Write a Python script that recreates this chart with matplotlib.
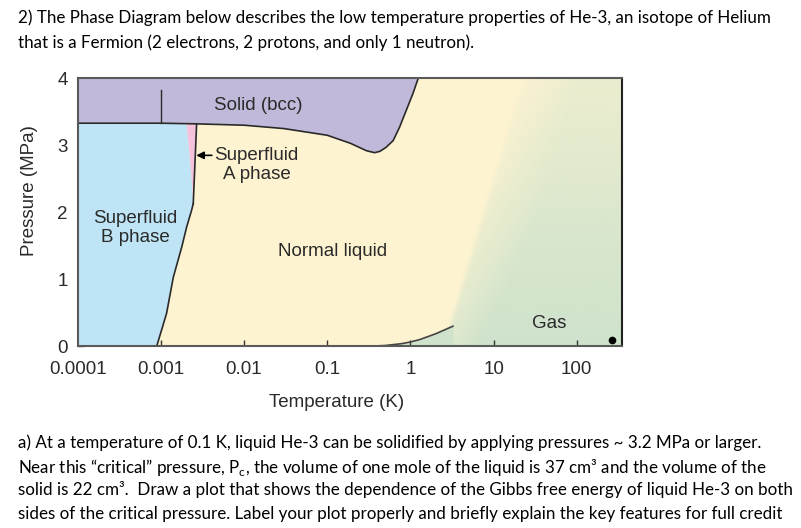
import numpy as np
import matplotlib
matplotlib.use("Agg")
import matplotlib.pyplot as plt
from matplotlib.patches import Polygon

# melting curve (liquid / solid boundary), T in K, P in MPa
melt_T = [1e-4, 1e-3, 2.7e-3, 0.01, 0.03, 0.1, 0.19, 0.295, 0.37, 0.43, 0.51, 0.62, 0.74, 0.89, 1.07, 1.24]
melt_P = [3.33, 3.33, 3.32, 3.30, 3.25, 3.15, 3.03, 2.92, 2.89, 2.91, 2.97, 3.07, 3.27, 3.52, 3.77, 4.0]

# superfluid B / normal liquid boundary
bphase_T = [0.00089, 0.00117, 0.00141, 0.00178, 0.00204, 0.00234, 0.00245]
bphase_P = [0.0, 0.49, 1.03, 1.48, 1.78, 2.03, 2.13]

# B / A boundary (left edge of the A phase sliver)
ab_T = [0.00245, 0.00234, 0.00219, 0.00204]
ab_P = [2.13, 2.53, 2.93, 3.32]

# A phase / normal liquid boundary
an_T = [0.00245, 0.00269]
an_P = [2.13, 3.32]

# liquid / vapour line
vap_T = [0.295, 0.5, 0.79, 1.0, 1.29, 2.04, 3.24]
vap_P = [0.0, 0.012, 0.04, 0.065, 0.10, 0.19, 0.30]

# where the gas shading starts fading in
gas_edge_T = [2.7, 21.0]
gas_edge_P = [0.30, 4.0]

# short line inside the solid region
sdiv_T = [1e-3, 1e-3]
sdiv_P = [3.33, 3.82]

dot_T, dot_P = 262.0, 0.10

xticks = [1e-4, 1e-3, 1e-2, 1e-1, 1, 10, 100]
xtick_labels = ["0.0001", "0.001", "0.01", "0.1", "1", "10", "100"]
yticks = [0, 1, 2, 3, 4]

labels = [
    ("Solid (bcc)", 0.0148, 3.60),
    ("Superfluid\nA phase", 0.0141, 2.70),
    ("Superfluid\nB phase", 0.00049, 1.77),
    ("Normal liquid", 0.117, 1.41),
    ("Gas", 46.0, 0.34),
]

header = [
    "2) The Phase Diagram below describes the low temperature properties of He-3, an isotope of Helium",
    "that is a Fermion (2 electrons, 2 protons, and only 1 neutron).",
]
question = [
    "a) At a temperature of 0.1 K, liquid He-3 can be solidified by applying pressures ~ 3.2 MPa or larger.",
    "Near this \u201ccritical\u201d pressure, P$_\\mathrm{c}$, the volume of one mole of the liquid is 37 cm\u00b3 and the volume of the",
    "solid is 22 cm\u00b3.  Draw a plot that shows the dependence of the Gibbs free energy of liquid He-3 on both",
    "sides of the critical pressure. Label your plot properly and briefly explain the key features for full credit",
]

yellow = "#fdf3d1"
green = "#cfe3cc"
purple = "#c1b9d9"
blue = "#bfe4f5"
pink = "#f5c2dc"
ink = "#2a2a2a"

plt.rcParams["font.family"] = ["Liberation Sans", "DejaVu Sans"]
plt.rcParams["mathtext.fontset"] = "custom"
plt.rcParams["mathtext.rm"] = "Lato"

fig = plt.figure(figsize=(8.01, 5.28), dpi=100)
ax = fig.add_axes([0.097, 0.3441, 0.680, 0.5076])
ax.set_xscale("log")
ax.set_xlim(1e-4, 10 ** 2.548)
ax.set_ylim(0, 4)
ax.set_facecolor(yellow)
ax.set_autoscale_on(False)

# gas shading: fades in to the right of the edge line, stronger near the bottom
W = fig.get_figwidth() * fig.dpi * 0.680
H = fig.get_figheight() * fig.dpi * 0.5076
to_ax = ax.transData + ax.transAxes.inverted()
e = to_ax.transform(np.column_stack([gas_edge_T, gas_edge_P])) * [W, H]
nx, ny = int(W), int(H)
px, py = np.meshgrid(np.arange(nx) + 0.5, np.arange(ny) + 0.5)
vec = e[1] - e[0]
nrm = np.array([vec[1], -vec[0]]) / np.hypot(*vec)
d = (px - e[0, 0]) * nrm[0] + (py - e[0, 1]) * nrm[1]
v = py / H
base = np.clip(d / 6.0, 0, 1) * (0.6 - 0.45 * v)
g = np.clip(base + np.clip(d / 55.0, 0, 1) * 0.6, 0, 1) * (1 - 0.5 * v)
rgba = np.zeros((ny, nx, 4))
rgba[..., :3] = matplotlib.colors.to_rgb(green)
rgba[..., 3] = g
ax.imshow(rgba, extent=[0, 1, 0, 1], transform=ax.transAxes, origin="lower",
          aspect="auto", zorder=1, interpolation="bilinear")
ax.fill_between(vap_T, 0, vap_P, color=green, lw=0, zorder=1.5)

# solid region
solid = list(zip(melt_T, melt_P)) + [(1e-4, 4.0)]
ax.add_patch(Polygon(solid, closed=True, fc=purple, ec="none", zorder=2))

# superfluid B region
bpoly = [(1e-4, 0.0)] + list(zip(bphase_T, bphase_P)) + list(zip(ab_T, ab_P))[1:] + [(1e-4, 3.33)]
ax.add_patch(Polygon(bpoly, closed=True, fc=blue, ec="none", zorder=2))

# superfluid A sliver
apoly = list(zip(ab_T, ab_P)) + list(zip(an_T, an_P))[::-1]
ax.add_patch(Polygon(apoly, closed=True, fc=pink, ec="none", zorder=2))

ax.plot(melt_T, melt_P, color=ink, lw=1.2, zorder=3)
ax.plot(bphase_T, bphase_P, color=ink, lw=1.2, zorder=3)
ax.plot(an_T, an_P, color=ink, lw=1.2, zorder=3)
ax.plot(vap_T, vap_P, color="#444444", lw=1.2, zorder=3)
ax.plot(sdiv_T, sdiv_P, color=ink, lw=1.0, zorder=3)
ax.plot([dot_T], [dot_P], "o", color="black", ms=4.5, zorder=4)

ax.annotate("", xy=(0.00266, 2.85), xytext=(0.0041, 2.85),
            arrowprops=dict(arrowstyle="-|>", color="black", lw=1.2,
                            mutation_scale=11, shrinkA=0, shrinkB=0), zorder=4)

for txt, x, y in labels:
    ax.text(x, y, txt, ha="center", va="center", fontsize=13.5, color=ink,
            linespacing=1.15, zorder=4)

ax.set_xticks(xticks)
ax.set_xticklabels(xtick_labels)
ax.set_yticks(yticks)
ax.minorticks_off()
ax.tick_params(direction="in", length=4, width=1, color="#333333",
               labelsize=13.5, labelcolor=ink)
ax.tick_params(axis="x", pad=10.5)
ax.tick_params(axis="y", pad=7)
for s in ax.spines.values():
    s.set_color("#5a5a5a")
    s.set_linewidth(1.5)
    s.set_zorder(5)
ax.spines["right"].set_color("#222222")

ax.set_xlabel("Temperature (K)", fontsize=13.5, color=ink, va="center")
ax.xaxis.set_label_coords(0.475, -0.209)
ax.set_ylabel("Pressure (MPa)", fontsize=13.5, color=ink, va="center")
ax.yaxis.set_label_coords(-0.0876, 0.58)

# body text: size chosen so the first line spans the same width as in the scan
fh = fig.get_figheight() * fig.dpi
x0 = 18.3
probe = fig.text(0, 0, header[0], family="Lato", fontsize=13)
fig.canvas.draw()
w13 = probe.get_window_extent().width
probe.remove()
body_size = 13 * (768 - x0) / w13

for i, line in enumerate(header):
    fig.text(x0 / 801, 1 - (22.7 + 25 * i) / fh, line, family="Lato",
             fontsize=body_size, color="black", va="baseline", ha="left")
for i, y in enumerate([447.7, 472.7, 495.5, 518.5]):
    fig.text(x0 / 801, 1 - y / fh, question[i], family="Lato",
             fontsize=body_size, color="black", va="baseline", ha="left")

fig.savefig("out.png", dpi=100)
